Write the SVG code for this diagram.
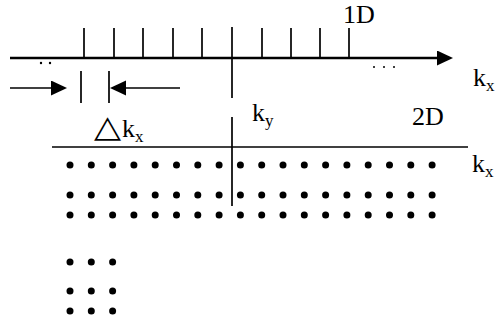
<svg xmlns="http://www.w3.org/2000/svg" xmlns:xlink="http://www.w3.org/1999/xlink" width="498" height="322" viewBox="0 0 498 322">
<style>
.axis{stroke:#000;stroke-width:2.4;fill:none}
.tick{stroke:#000;stroke-width:1.7;fill:none}
.thin{stroke:#000;stroke-width:1.7;fill:none}
.dot{fill:#000}
text{font-family:"Liberation Serif","Times New Roman",serif;fill:#000}
.lbl{font-size:26px}
.sub{font-size:17px}
.tri{font-family:"DejaVu Sans",sans-serif;font-size:22px}
</style>
<defs>
<marker id="ah" markerUnits="userSpaceOnUse" markerWidth="17" markerHeight="16" refX="0" refY="7.5" orient="auto">
<path d="M0,0 L16,7.5 L0,15 z" fill="#000"/>
</marker>
<circle id="d" r="3.5" class="dot"/>
<g id="row18">
<use xlink:href="#d" x="70"/><use xlink:href="#d" x="91.3"/><use xlink:href="#d" x="112.6"/><use xlink:href="#d" x="133.9"/><use xlink:href="#d" x="155.2"/><use xlink:href="#d" x="176.5"/><use xlink:href="#d" x="197.8"/><use xlink:href="#d" x="219.1"/><use xlink:href="#d" x="240.4"/><use xlink:href="#d" x="261.7"/><use xlink:href="#d" x="283"/><use xlink:href="#d" x="304.3"/><use xlink:href="#d" x="325.6"/><use xlink:href="#d" x="346.9"/><use xlink:href="#d" x="368.2"/><use xlink:href="#d" x="389.5"/><use xlink:href="#d" x="410.8"/><use xlink:href="#d" x="432.1"/>
</g>
<g id="row3">
<use xlink:href="#d" x="70"/><use xlink:href="#d" x="91.3"/><use xlink:href="#d" x="112.6"/>
</g>
</defs>
<rect width="498" height="322" fill="#fff"/>

<g id="connectors">
<line class="axis" x1="10" y1="58" x2="437" y2="58" marker-end="url(#ah)"/>
<line class="thin" x1="10" y1="88" x2="51" y2="88" marker-end="url(#ah)"/>
<line class="thin" x1="180" y1="88" x2="126" y2="88" marker-end="url(#ah)"/>
</g>

<g id="axis1D">
<line class="tick" x1="84" y1="28" x2="84" y2="58"/>
<line class="tick" x1="114" y1="28" x2="114" y2="58"/>
<line class="tick" x1="143" y1="28" x2="143" y2="58"/>
<line class="tick" x1="173" y1="28" x2="173" y2="58"/>
<line class="tick" x1="202" y1="28" x2="202" y2="58"/>
<line class="tick" x1="232" y1="27" x2="232" y2="98"/>
<line class="tick" x1="262" y1="28" x2="262" y2="58"/>
<line class="tick" x1="291" y1="28" x2="291" y2="58"/>
<line class="tick" x1="320" y1="28" x2="320" y2="58"/>
<line class="tick" x1="349" y1="28" x2="349" y2="58"/>
<circle class="dot" cx="41" cy="63" r="1.2"/>
<circle class="dot" cx="50" cy="63" r="1.2"/>
<circle class="dot" cx="374" cy="67" r="1"/>
<circle class="dot" cx="384" cy="67" r="1"/>
<circle class="dot" cx="394" cy="67" r="1"/>
<text class="lbl" x="343" y="23">1D</text>
<text class="lbl" x="473" y="86">k<tspan class="sub" dy="5">x</tspan></text>
</g>

<g id="spacing">
<line class="thin" x1="81" y1="71" x2="81" y2="103"/>
<line class="thin" x1="109" y1="71" x2="109" y2="103"/>
<text class="tri" transform="translate(94,137) scale(1.6,1.4)">△</text>
<text class="lbl" x="122" y="137">k<tspan class="sub" dy="5">x</tspan></text>
</g>

<g id="axis2D">
<line class="thin" x1="52" y1="147" x2="468" y2="147"/>
<line class="thin" x1="232" y1="117" x2="232" y2="206"/>
<text class="lbl" x="252" y="121">k<tspan class="sub" dy="5">y</tspan></text>
<text class="lbl" x="412" y="125">2D</text>
<text class="lbl" x="472" y="172">k<tspan class="sub" dy="5">x</tspan></text>
</g>

<g id="lattice">
<use xlink:href="#row18" y="165"/>
<use xlink:href="#row18" y="195"/>
<use xlink:href="#row18" y="215"/>
<use xlink:href="#row3" y="262"/>
<use xlink:href="#row3" y="291"/>
<use xlink:href="#row3" y="311"/>
</g>
</svg>
